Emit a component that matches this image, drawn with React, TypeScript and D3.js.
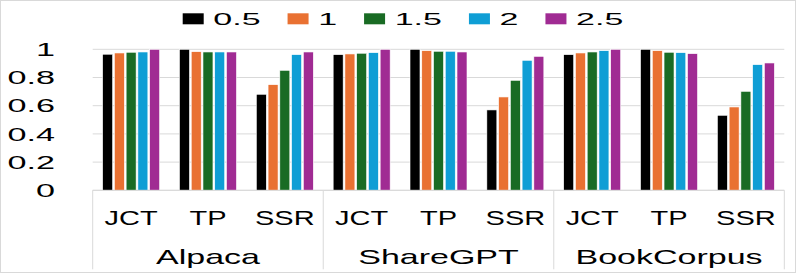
import React from 'react';
import * as d3 from 'd3';

const datasets = ['Alpaca', 'ShareGPT', 'BookCorpus'];
const metrics = ['JCT', 'TP', 'SSR'];
const seriesNames = ['0.5', '1', '1.5', '2', '2.5'];
const seriesColors = ['#000000', '#E97132', '#196B24', '#0F9ED5', '#A02B93'];
// values per category: Alpaca JCT,TP,SSR | ShareGPT JCT,TP,SSR | BookCorpus JCT,TP,SSR
const s05 = [0.965, 1.0, 0.681, 0.962, 1.0, 0.57, 0.962, 1.0, 0.532];
const s1 = [0.974, 0.983, 0.749, 0.967, 0.99, 0.662, 0.974, 0.99, 0.591];
const s15 = [0.979, 0.981, 0.851, 0.972, 0.986, 0.78, 0.981, 0.979, 0.702];
const s2 = [0.981, 0.981, 0.962, 0.976, 0.986, 0.922, 0.99, 0.976, 0.891];
const s25 = [1.0, 0.981, 0.981, 1.0, 0.981, 0.95, 1.0, 0.969, 0.903];
const yTicks = [0, 0.2, 0.4, 0.6, 0.8, 1];
const yTickLabels = ['0', '0.2', '0.4', '0.6', '0.8', '1'];

const series = [s05, s1, s15, s2, s25];
const FONT = 'Liberation Sans, Arial, sans-serif';

const W = 797;
const H = 274;
const plotLeft = 92.7;
const plotRight = 784.3;
const y0 = 190.3;
const y1 = 49.3;

let canvasCtx: CanvasRenderingContext2D | null = null;
function measure(text: string, size: number): number {
  if (!canvasCtx) {
    const c = document.createElement('canvas');
    canvasCtx = c.getContext('2d');
  }
  if (!canvasCtx) return text.length * size * 0.55;
  canvasCtx.font = `${size}px "Liberation Sans"`;
  return canvasCtx.measureText(text).width;
}

function SText({ x, y, sx, size, anchor, children }: any) {
  return (
    <text
      transform={`translate(${x},${y}) scale(${sx},1)`}
      textAnchor={anchor}
      fontSize={size}
      fontFamily={FONT}
      fill="#000"
    >
      {children}
    </text>
  );
}

export default function App() {
  const categories: string[] = [];
  datasets.forEach((d) => metrics.forEach((m) => categories.push(`${d}|${m}`)));

  const x0 = d3.scaleBand<string>().domain(categories).range([plotLeft, plotRight]).padding(0);
  const xGroup = d3.scaleBand<string>().domain(datasets).range([plotLeft, plotRight]).padding(0);
  const groupWidth = 58.75;
  const x1 = d3
    .scaleBand<string>()
    .domain(seriesNames)
    .range([-groupWidth / 2, groupWidth / 2])
    .paddingInner(0.15)
    .paddingOuter(0.075);
  const y = d3.scaleLinear().domain([0, 1]).range([y0, y1]);

  // legend layout
  const legSize = 17;
  const legSx = 2.0;
  const swW = 21;
  const swH = 11;
  const swGap = 9.6;
  const itemGap = 27;
  let lx = 182.7;
  const legendItems = seriesNames.map((n, i) => {
    const tw = measure(n, legSize) * legSx;
    const item = { name: n, color: seriesColors[i], x: lx, tx: lx + swW + swGap };
    lx += swW + swGap + tw + itemGap;
    return item;
  });

  const bw = Math.min(x1.bandwidth(), 10);

  return (
    <svg
      width={W}
      height={H}
      style={{ position: 'fixed', left: 0, top: 0, background: '#fff' }}
      xmlns="http://www.w3.org/2000/svg"
    >
      <rect x={0.5} y={0.5} width={W - 2} height={H - 2} fill="#fff" stroke="#D9D9D9" strokeWidth={1} />
      {/* gridlines */}
      {yTicks.map((t) => (
        <line key={t} x1={plotLeft} x2={plotRight} y1={y(t)} y2={y(t)} stroke="#D9D9D9" strokeWidth={1} />
      ))}
      {/* y tick labels */}
      {yTicks.map((t, i) => (
        <SText key={t} x={55} y={y(t) + 6.6} sx={1.9} size={18} anchor="end">
          {yTickLabels[i]}
        </SText>
      ))}
      {/* bars */}
      {categories.map((c, ci) => (
        <g key={c} transform={`translate(${(x0(c) as number) + x0.bandwidth() / 2},0)`}>
          {series.map((s, si) => (
            <rect
              key={si}
              x={(x1(seriesNames[si]) as number) + (x1.bandwidth() - bw) / 2}
              y={y(s[ci])}
              width={bw}
              height={y(0) - y(s[ci])}
              fill={seriesColors[si]}
              stroke="#fff"
              strokeWidth={0.6}
            />
          ))}
        </g>
      ))}
      {/* baseline */}
      <line x1={plotLeft} x2={plotRight} y1={y0} y2={y0} stroke="#D9D9D9" strokeWidth={1} />
      {/* group separators */}
      {datasets.map((d) => (
        <line
          key={d}
          x1={xGroup(d) as number}
          x2={xGroup(d) as number}
          y1={y0}
          y2={269.3}
          stroke="#D9D9D9"
          strokeWidth={1}
        />
      ))}
      <line x1={plotRight} x2={plotRight} y1={y0} y2={269.3} stroke="#D9D9D9" strokeWidth={1} />
      {/* metric labels */}
      {categories.map((c) => (
        <SText key={c} x={(x0(c) as number) + x0.bandwidth() / 2} y={224.5} sx={1.45} size={20} anchor="middle">
          {c.split('|')[1]}
        </SText>
      ))}
      {/* dataset labels */}
      {datasets.map((d) => (
        <SText key={d} x={(xGroup(d) as number) + xGroup.bandwidth() / 2} y={263.5} sx={1.7} size={20} anchor="middle">
          {d}
        </SText>
      ))}
      {/* legend */}
      {legendItems.map((it) => (
        <g key={it.name}>
          <rect x={it.x} y={13.3} width={swW} height={swH} fill={it.color} />
          <SText x={it.tx} y={25} sx={legSx} size={legSize} anchor="start">
            {it.name}
          </SText>
        </g>
      ))}
    </svg>
  );
}
